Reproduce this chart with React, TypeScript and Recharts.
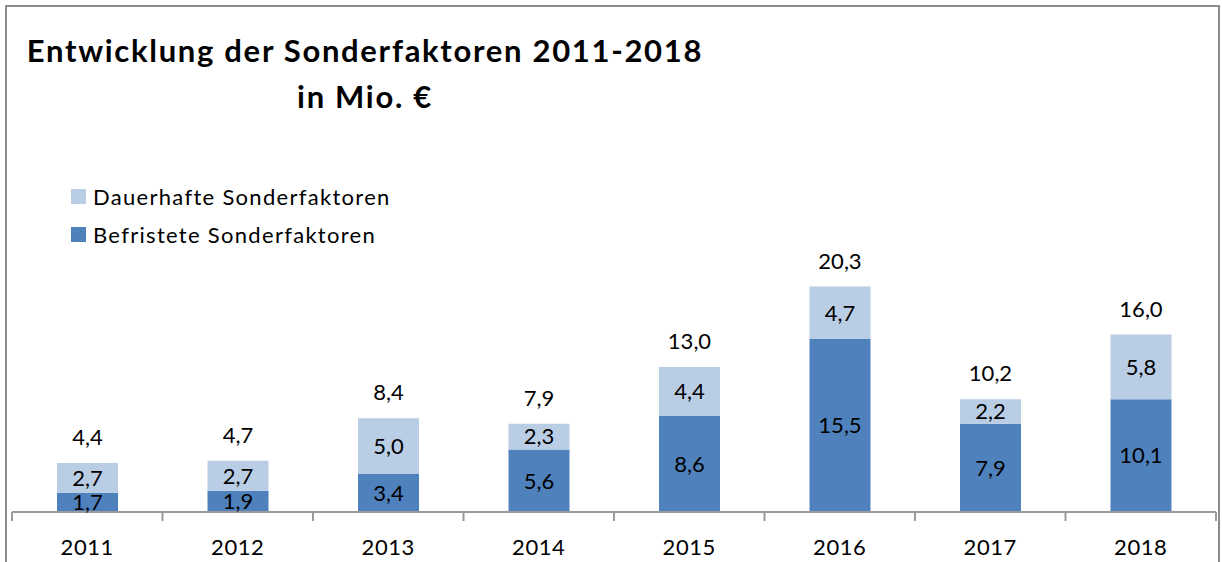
import React from 'react';
import { BarChart, Bar, XAxis, YAxis, LabelList } from 'recharts';

const years = ['2011', '2012', '2013', '2014', '2015', '2016', '2017', '2018'];
const befristet = [1.7, 1.9, 3.4, 5.6, 8.6, 15.5, 7.9, 10.1];
const dauerhaft = [2.7, 2.7, 5.0, 2.3, 4.4, 4.7, 2.2, 5.8];
const totals = [4.4, 4.7, 8.4, 7.9, 13.0, 20.3, 10.2, 16.0];
const seriesNames = ['Dauerhafte Sonderfaktoren', 'Befristete Sonderfaktoren'];

const data = years.map((year, i) => ({
  year,
  befristet: befristet[i],
  dauerhaft: dauerhaft[i],
  total: totals[i],
}));

const W = 1222;
const H = 562;
const M = { top: 233, right: 6, bottom: 10, left: 12 };
const PLOT_BOTTOM = H - M.bottom - 40;
const BAND = (W - M.left - M.right) / years.length;

const FONT = 'Lato, "Open Sans", sans-serif';
const DARK = '#4F81BD';
const LIGHT = '#B9CDE5';
const AXIS = '#9a9a9a';

const fmt = (v: any) => Number(v).toFixed(1).replace('.', ',');

const YearTick = (props: any) => {
  const { x, payload, index } = props;
  const last = index === years.length - 1;
  return (
    <g>
      <line x1={x - BAND / 2} x2={x - BAND / 2} y1={PLOT_BOTTOM} y2={PLOT_BOTTOM + 9} stroke={AXIS} strokeWidth={2} />
      {last && (
        <line x1={x + BAND / 2} x2={x + BAND / 2} y1={PLOT_BOTTOM} y2={PLOT_BOTTOM + 9} stroke={AXIS} strokeWidth={2} />
      )}
      <text x={x} y={PLOT_BOTTOM + 43} textAnchor="middle" fontSize={22} letterSpacing={0.6} fontFamily={FONT} fill="#000">
        {payload.value}
      </text>
    </g>
  );
};

export default function App() {
  const legendItems = [
    { label: seriesNames[0], color: LIGHT },
    { label: seriesNames[1], color: DARK },
  ];
  return (
    <div style={{ position: 'absolute', left: 0, top: 0, width: W, height: H, background: '#fff', overflow: 'hidden' }}>
      <div
        style={{
          position: 'absolute', left: 5, top: 5, width: W - 7, height: H + 10,
          border: '2px solid #8c8c8c', boxSizing: 'border-box',
        }}
      />
      <div
        style={{
          position: 'absolute', left: 5, top: 27, width: 720, textAlign: 'center',
          fontFamily: FONT, fontWeight: 700, fontSize: 31, lineHeight: '46px', color: '#000',
          letterSpacing: 1.7,
        }}
      >
        Entwicklung der Sonderfaktoren 2011-2018
        <br />
        in Mio. €
      </div>
      <div style={{ position: 'absolute', left: 71, top: 177, fontFamily: FONT, fontSize: 22, letterSpacing: 1.3 }}>
        {legendItems.map((it) => (
          <div key={it.label} style={{ display: 'flex', alignItems: 'center', height: 38 }}>
            <div style={{ width: 15, height: 15, background: it.color, marginRight: 7 }} />
            <span style={{ color: '#000' }}>{it.label}</span>
          </div>
        ))}
      </div>
      <div style={{ position: 'absolute', left: 0, top: 0 }}>
        <BarChart width={W} height={H} data={data} margin={M}>
          <XAxis
            dataKey="year"
            height={40}
            axisLine={{ stroke: AXIS, strokeWidth: 2 }}
            tickLine={false}
            tick={<YearTick />}
            interval={0}
          />
          <YAxis hide domain={[0, 25]} />
          <Bar dataKey="befristet" name={seriesNames[1]} stackId="a" fill={DARK} barSize={61} isAnimationActive={false}>
            <LabelList dataKey="befristet" position="center" formatter={fmt} fill="#000" fontSize={22} fontFamily={FONT} />
          </Bar>
          <Bar dataKey="dauerhaft" name={seriesNames[0]} stackId="a" fill={LIGHT} barSize={61} isAnimationActive={false}>
            <LabelList dataKey="dauerhaft" position="center" formatter={fmt} fill="#000" fontSize={22} fontFamily={FONT} />
            <LabelList dataKey="total" position="top" offset={18} formatter={fmt} fill="#000" fontSize={22} fontFamily={FONT} />
          </Bar>
        </BarChart>
      </div>
    </div>
  );
}
